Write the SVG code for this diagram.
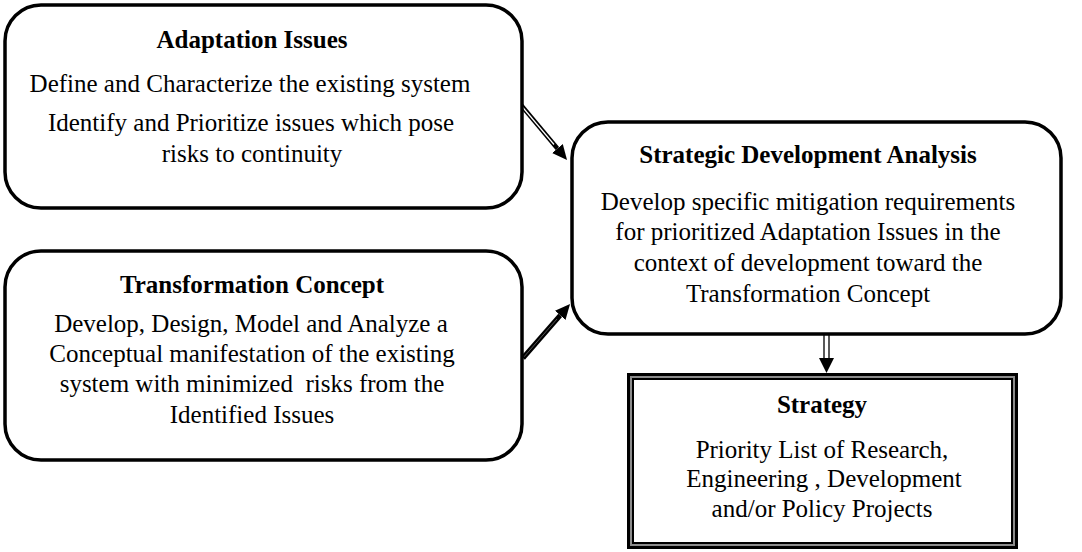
<svg xmlns="http://www.w3.org/2000/svg" width="1082" height="552" viewBox="0 0 1082 552">
  <style>
    .box { fill: #ffffff; stroke: #000000; stroke-width: 3.5; }
    text { font-family: "Liberation Serif", "Times New Roman", serif; font-size: 25px; fill: #000000; text-anchor: middle; }
    .title { font-weight: bold; }
  </style>
  <defs>
    <marker id="head" markerUnits="userSpaceOnUse" markerWidth="16" markerHeight="14" refX="0" refY="7" orient="auto">
      <path d="M0,0 L15,7 L0,14 Z" fill="#000000"/>
    </marker>
  </defs>

  <rect width="1082" height="552" fill="#ffffff"/>

  <!-- connectors -->
  <g id="connectors">
    <!-- Adaptation Issues -> Strategic Development Analysis (outlined shaft) -->
    <line x1="521" y1="105" x2="557.4" y2="148.5" stroke="#000000" stroke-width="4.5" marker-end="url(#head)"/>
    <line x1="522" y1="106.5" x2="554" y2="144.5" stroke="#ffffff" stroke-width="1.2"/>
    <!-- Transformation Concept -> Strategic Development Analysis (solid shaft) -->
    <line x1="523" y1="358" x2="560.2" y2="315.3" stroke="#000000" stroke-width="5" marker-end="url(#head)"/>
    <line x1="524" y1="356.8" x2="557" y2="319" stroke="#555555" stroke-width="1"/>
    <!-- Strategic Development Analysis -> Strategy (hollow shaft) -->
    <rect x="824" y="330" width="5" height="29" fill="#ffffff" stroke="#000000" stroke-width="1.3"/>
    <polygon points="819,358 834,358 826.5,373" fill="#000000"/>
  </g>

  <!-- Adaptation Issues -->
  <g id="adaptation-issues">
    <rect class="box" x="5" y="5" width="517" height="203" rx="36" ry="36"/>
    <text class="title" x="252" y="48">Adaptation Issues</text>
    <text x="250" y="92">Define and Characterize the existing system</text>
    <text x="251" y="131">Identify and Prioritize issues which pose</text>
    <text x="252" y="162">risks to continuity</text>
  </g>

  <!-- Transformation Concept -->
  <g id="transformation-concept">
    <rect class="box" x="5" y="251" width="517" height="209" rx="36" ry="36"/>
    <text class="title" x="252" y="293">Transformation Concept</text>
    <text x="251" y="332">Develop, Design, Model and Analyze a</text>
    <text x="252" y="362">Conceptual manifestation of the existing</text>
    <text x="252" y="392" xml:space="preserve">system with minimized  risks from the</text>
    <text x="252" y="423">Identified Issues</text>
  </g>

  <!-- Strategic Development Analysis -->
  <g id="strategic-development-analysis">
    <rect class="box" x="572" y="122" width="489" height="212" rx="36" ry="36"/>
    <text class="title" x="808" y="163">Strategic Development Analysis</text>
    <text x="808" y="210">Develop specific mitigation requirements</text>
    <text x="808" y="240">for prioritized Adaptation Issues in the</text>
    <text x="808" y="271">context of development toward the</text>
    <text x="808" y="302">Transformation Concept</text>
  </g>

  <!-- Strategy (triple-line frame) -->
  <g id="strategy">
    <rect x="628.5" y="374.5" width="388" height="173" fill="#ffffff" stroke="#000000" stroke-width="3"/>
    <rect x="631" y="377" width="383" height="168" fill="none" stroke="#8c8c8c" stroke-width="2"/>
    <rect x="633" y="379" width="379" height="164" fill="none" stroke="#000000" stroke-width="2"/>
    <text class="title" x="822" y="413">Strategy</text>
    <text x="822" y="458">Priority List of Research,</text>
    <text x="824" y="487">Engineering , Development</text>
    <text x="822" y="517">and/or Policy Projects</text>
  </g>
</svg>
